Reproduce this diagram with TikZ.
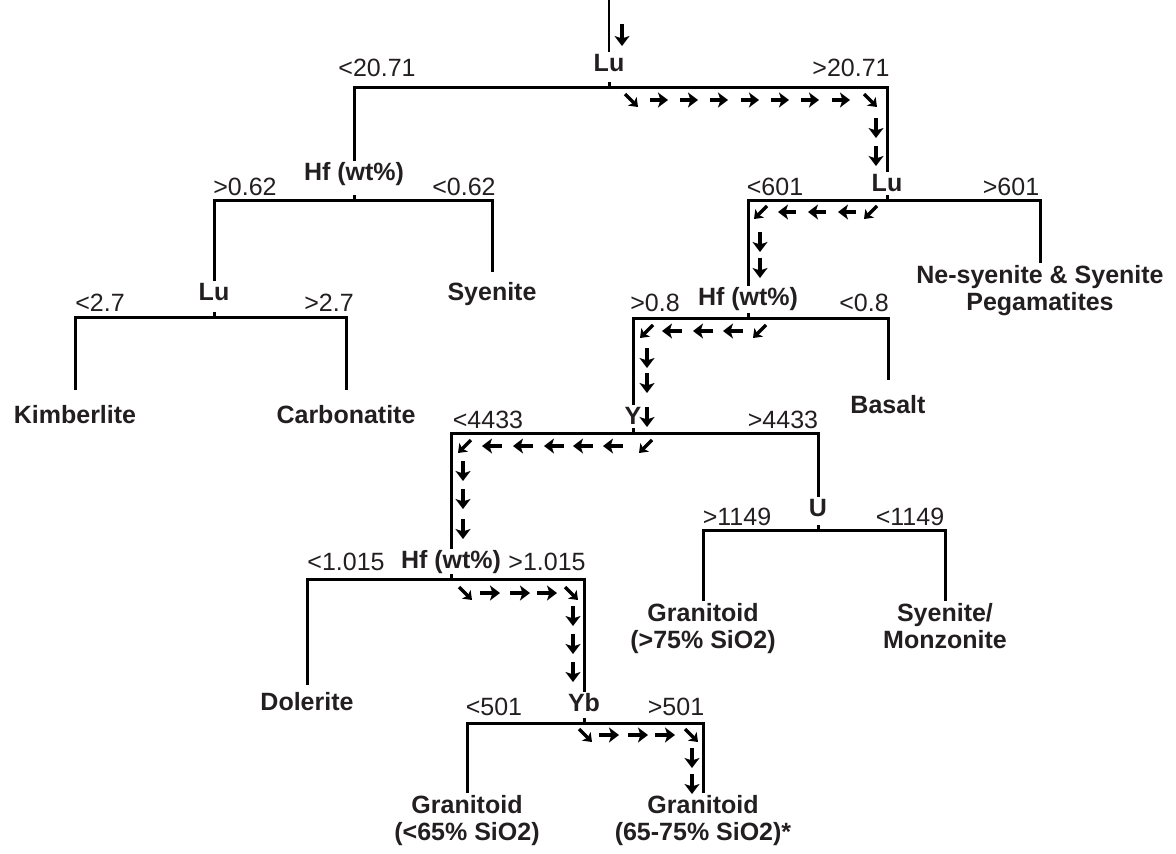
\documentclass[tikz,border=0pt]{standalone}
\usepackage{fontspec}
\setmainfont{Liberation Sans}
\usetikzlibrary{arrows.meta}
\definecolor{treeink}{HTML}{231F20}
\newcommand{\splitsize}{\fontsize{25}{27}\selectfont}

\begin{document}
\begin{tikzpicture}[
  x=1pt, y=-1pt,
  font=\splitsize,
  branch/.style={line width=3pt, draw=black},
  entryline/.style={line width=1.4pt, draw=black},
  var/.style={font=\splitsize\bfseries, text=treeink, inner sep=1.5pt, text height=18pt, text depth=5pt},
  leaf/.style={font=\splitsize\bfseries, text=treeink, align=center, anchor=north, inner sep=2pt},
  cut/.style={text=treeink, inner sep=0pt},
  run/.style={line width=4.4pt, -{Stealth[length=10pt,width=15pt,inset=2.5pt]}},
  slant/.style={line width=3.4pt, -{Stealth[length=8pt,width=12pt,inset=2pt]}}
]
\useasboundingbox (0,0) rectangle (1176,854);

% split variables
\node[var] (lu1) at (609,65) {Lu};
\node[var] (hf1) at (354,174) {Hf (wt\%)};
\node[var] (lu2) at (887,185) {Lu};
\node[var] (lu3) at (214,294) {Lu};
\node[var] (hf2) at (748,299) {Hf (wt\%)};
\node[var] (y1) at (633,418) {Y};
\node[var] (u1) at (818,510) {U};
\node[var] (hf3) at (451,562) {Hf (wt\%)};
\node[var] (yb) at (584,705) {Yb};

% rock types
\node[leaf] (syen) at (492,280) {Syenite};
\node[leaf] (nesy) at (1040,263) {Ne-syenite \& Syenite\\Pegamatites};
\node[leaf] (kimb) at (75,403) {Kimberlite};
\node[leaf] (carb) at (346,403) {Carbonatite};
\node[leaf] (bas) at (888,393) {Basalt};
\node[leaf] (gran1) at (703,601) {Granitoid\\(>75\% SiO2)};
\node[leaf] (syemo) at (945,601) {Syenite/\\Monzonite};
\node[leaf] (dol) at (307,690) {Dolerite};
\node[leaf] (gran2) at (467,793) {Granitoid\\(<65\% SiO2)};
\node[leaf] (gran3) at (703,793) {Granitoid\\(65-75\% SiO2)*};

% thresholds
\node[cut] (c1l) at (377,68) {<20.71};
\node[cut] (c1r) at (851,68) {>20.71};
\node[cut] (c2l) at (245,187) {>0.62};
\node[cut] (c2r) at (464,187) {<0.62};
\node[cut] (c3l) at (775,187) {<601};
\node[cut] (c3r) at (1011,187) {>601};
\node[cut] (c4l) at (100,303) {<2.7};
\node[cut] (c4r) at (329,303) {>2.7};
\node[cut] (c5l) at (655,303) {>0.8};
\node[cut] (c5r) at (864,303) {<0.8};
\node[cut] (c6l) at (488,420) {<4433};
\node[cut] (c6r) at (783,420) {>4433};
\node[cut] (c7l) at (737,517) {>1149};
\node[cut] (c7r) at (910,517) {<1149};
\node[cut] (c8l) at (346,562) {<1.015};
\node[cut] (c8r) at (547,562) {>1.015};
\node[cut] (c9l) at (494,707) {<501};
\node[cut] (c9r) at (676,707) {>501};

% brackets
\coordinate (entry) at (609,0);
\coordinate (lu1-mid) at (609,87);
\coordinate (hf1-mid) at (354,200);
\coordinate (lu2-mid) at (887,200);
\coordinate (lu3-mid) at (214,317);
\coordinate (hf2-mid) at (748,318);
\coordinate (y1-mid) at (633,433);
\coordinate (u1-mid) at (818,530);
\coordinate (hf3-mid) at (451,579);
\coordinate (yb-mid) at (584,723);

\draw[entryline] (entry) -- (lu1.north);
\draw[branch] (hf1.north) |- (lu1-mid) -| (lu2.north);
\draw[branch, shorten >=8pt] (lu3.north) |- (hf1-mid) -| (syen.north);
\draw[branch] (hf2.north) |- (lu2-mid) -| (nesy.north);
\draw[branch, shorten <=13pt, shorten >=13pt] (kimb.north) |- (lu3-mid) -| (carb.north);
\draw[branch, shorten >=13pt] (y1.north) |- (hf2-mid) -| (bas.north);
\draw[branch] (hf3.north) |- (y1-mid) -| (u1.north);
\draw[branch] (gran1.north) |- (u1-mid) -| (syemo.north);
\draw[branch, shorten <=5pt] (dol.north) |- (hf3-mid) -| (yb.north);
\draw[branch] (gran2.north) |- (yb-mid) -| (gran3.north);
\foreach \m in {lu1,hf1,lu2,lu3,hf2,y1,u1,hf3,yb}
  \draw[branch] (\m-mid) -- ++(0,-5);

% route markers
\draw[run] (622,24) -- (622,46);
\draw[slant] (625,94) -- (638,107);
\foreach \x in {659,689,719,750,780,810,841} \draw[run] (\x-9,100) -- (\x+9,100);
\draw[slant] (864,94) -- (877,107);
\foreach \y in {128,156} \draw[run] (876,\y-10) -- (876,\y+10);

\draw[slant] (877,206) -- (864,219);
\foreach \x in {847,817,787} \draw[run] (\x+9,212) -- (\x-9,212);
\draw[slant] (767,206) -- (754,219);
\foreach \y in {242,268} \draw[run] (760,\y-10) -- (760,\y+10);

\draw[slant] (766,325) -- (753,338);
\foreach \x in {733,703,672} \draw[run] (\x+10,331) -- (\x-10,331);
\draw[slant] (653,325) -- (640,338);
\foreach \y in {358,383,417} \draw[run] (647,\y-10) -- (647,\y+10);

\draw[slant] (652,440) -- (639,453);
\foreach \x in {613,583,554,523,492} \draw[run] (\x+10,446) -- (\x-10,446);
\draw[slant] (471,440) -- (458,453);
\foreach \y in {471,499,529} \draw[run] (463,\y-10) -- (463,\y+10);

\draw[slant] (459,587) -- (472,600);
\foreach \x in {490,520,547} \draw[run] (\x-10,593) -- (\x+10,593);
\draw[slant] (565,587) -- (578,600);
\foreach \y in {616,644,672} \draw[run] (573,\y-10) -- (573,\y+10);

\draw[slant] (579,729) -- (592,742);
\foreach \x in {609,638,665} \draw[run] (\x-10,735) -- (\x+10,735);
\draw[slant] (685,729) -- (698,742);
\foreach \y in {758,784} \draw[run] (692,\y-10) -- (692,\y+10);
\end{tikzpicture}
\end{document}
